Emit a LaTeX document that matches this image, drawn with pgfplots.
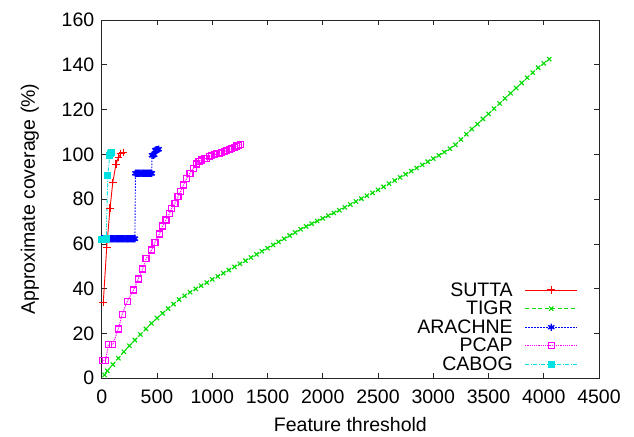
\documentclass[border=0pt]{standalone}
\usepackage{pgfplots}
\pgfplotsset{compat=1.18}
\usepackage{fontspec}
\setmainfont{Liberation Sans}
\definecolor{gpred}{RGB}{255,0,0}
\definecolor{gpgreen}{RGB}{0,220,0}
\definecolor{gpblue}{RGB}{0,0,255}
\definecolor{gpmag}{RGB}{255,0,255}
\definecolor{gpcyan}{RGB}{0,225,225}
\newcommand{\gpfont}{\fontsize{19.5bp}{22bp}\selectfont}
\begin{document}
\begin{tikzpicture}
\begin{axis}[
  scale only axis,
  width=497bp, height=358bp,
  xmin=0, xmax=4500, ymin=0, ymax=160,
  xtick={0,500,...,4500}, ytick={0,20,...,160},
  tick align=inside, tick pos=both,
  major tick length=5bp,
  axis line style={line width=0.8bp, black!85},
  every tick/.style={line width=0.7bp, black!85},
  /pgf/number format/assume math mode=true,
  /pgf/number format/1000 sep={},
  tick label style={font=\gpfont},
  label style={font=\gpfont},
  xlabel={Feature threshold},
  ylabel={Approximate coverage (\%)},
  xticklabel style={yshift=-8bp},
  yticklabel style={xshift=-4bp},
  xlabel style={yshift=-7bp},
  ylabel style={yshift=16bp},
  legend plot pos=right,
  legend cell align=right,
  legend style={at={(rel axis cs:1,0)}, anchor=south east, xshift=-20bp, yshift=3bp,
    draw=none, fill=none, font=\gpfont, row sep=-0.5bp, column sep=10bp, inner sep=1bp},
  legend image code/.code={\draw[mark repeat=2,mark phase=2,#1] plot coordinates {(0bp,0bp) (26bp,0bp) (52bp,0bp)};},
]
\addplot[color=gpred, line width=0.9bp, solid, mark=+, mark size=3.8bp, mark options={solid, line width=1.2bp}] coordinates {
(14,33.9) (45,58.5) (75,75.9) (100,87.5) (129,95.6) (150,98.5) (172,100.2) (195,100.9)
};
\addlegendentry{SUTTA}
\addplot[color=gpgreen, line width=0.9bp, dash pattern=on 4bp off 2.5bp, mark=x, mark size=3bp, mark options={solid, line width=1.1bp}] coordinates {
(25,1.5) (50,3.3) (100,6.1) (150,8.9) (200,11.8) (250,14.5) (300,17.0) (350,19.5) (400,22.0) (450,24.5)
(500,26.8) (550,29.0) (600,31.1) (650,33.1) (700,35.1) (750,36.8) (800,38.4) (850,39.9) (900,41.3) (950,42.7)
(1000,44.1) (1050,45.5) (1100,46.9) (1150,48.3) (1200,49.7) (1250,51.1) (1300,52.5) (1350,53.9) (1400,55.3) (1450,56.7)
(1500,58.1) (1550,59.5) (1600,60.9) (1650,62.3) (1700,63.7) (1750,65.1) (1800,66.5) (1850,67.8) (1900,69.0) (1950,70.2)
(2000,71.4) (2050,72.6) (2100,73.8) (2150,75.0) (2200,76.3) (2250,77.6) (2300,78.9) (2350,80.2) (2400,81.5) (2450,82.8)
(2500,84.1) (2550,85.5) (2600,86.9) (2650,88.3) (2700,89.7) (2750,91.1) (2800,92.5) (2850,93.9) (2900,95.3) (2950,96.7)
(3000,98.1) (3050,99.5) (3100,101.0) (3150,102.5) (3200,104.3) (3250,106.6) (3300,109.0) (3350,111.3) (3400,113.5) (3450,115.8)
(3500,118.1) (3550,120.4) (3600,122.7) (3650,125.0) (3700,127.3) (3750,129.6) (3800,131.9) (3850,134.2) (3900,136.5) (3950,138.7)
(4000,140.6) (4050,142.5)
};
\addlegendentry{TIGR}
\addplot[color=gpblue, line width=0.9bp, dash pattern=on 1.5bp off 1.5bp, mark=asterisk, mark size=3.6bp, mark options={solid, line width=1.4bp}] coordinates {
(0,62.3) (10,62.3) (20,62.3) (30,62.3) (40,62.3) (50,62.3) (60,62.3) (70,62.3) (80,62.3) (90,62.3)
(100,62.3) (110,62.3) (120,62.3) (130,62.3) (140,62.3) (150,62.3) (160,62.3) (170,62.3) (180,62.3) (190,62.3)
(200,62.3) (210,62.3) (220,62.3) (230,62.3) (240,62.3) (250,62.3) (260,62.3) (270,62.3) (280,62.3) (290,62.3) (300,62.3)
(305,91.5) (315,91.5) (325,91.5) (335,91.5) (345,91.5) (355,91.5) (365,91.5) (375,91.5) (385,91.5) (395,91.5)
(405,91.5) (415,91.5) (425,91.5) (435,91.5) (445,91.5) (452,91.5)
(455,99.6) (465,99.6) (475,99.8) (485,101.8) (495,102.0) (505,102.1) (515,102.3)
};
\addlegendentry{ARACHNE}
\addplot[color=gpmag, line width=1bp, dash pattern=on 1.2bp off 1bp, mark=square, mark size=3bp, mark options={solid, line width=1.2bp, draw=gpmag}] coordinates {
(5,8) (35,8) (60,15) (100,15) (150,22) (185,28.6) (230,34.2) (287,39.4) (331,44.3) (371,48.8)
(401,53.3) (452,57.3) (482,60.7) (521,64.4) (552,68) (582,70.7) (612,73.4) (633,75.9) (663,78.2) (690,81)
(715,83.5) (740,86.3) (769,89.3) (799,91.6) (829,93.8) (860,95.7) (880,96.7) (905,97.5) (930,98) (950,98.3)
(975,98.9) (995,99.3) (1020,99.8) (1041,100.2) (1065,100.5) (1086,100.8) (1110,101.3) (1131,101.7) (1155,102.2) (1176,102.7)
(1200,103.2) (1222,103.7) (1240,104.1) (1258,104.5)
};
\addlegendentry{PCAP}
\addplot[color=gpcyan, line width=0.9bp, dash pattern=on 4bp off 1.5bp on 1bp off 1.5bp, mark=square*, mark size=3bp, mark options={solid}] coordinates {
(0,62) (10,62) (20,62) (30,62) (40,62.2) (55,90.5) (72,99.5) (78,100.5) (85,101)
};
\addlegendentry{CABOG}
\coordinate (bl) at (rel axis cs:0,0);
\coordinate (tr) at (rel axis cs:1,1);
\end{axis}
\pgfresetboundingbox
\path ([shift={(-101.7bp,-58bp)}]bl) rectangle ([shift={(35bp,20bp)}]tr);
\end{tikzpicture}
\end{document}
